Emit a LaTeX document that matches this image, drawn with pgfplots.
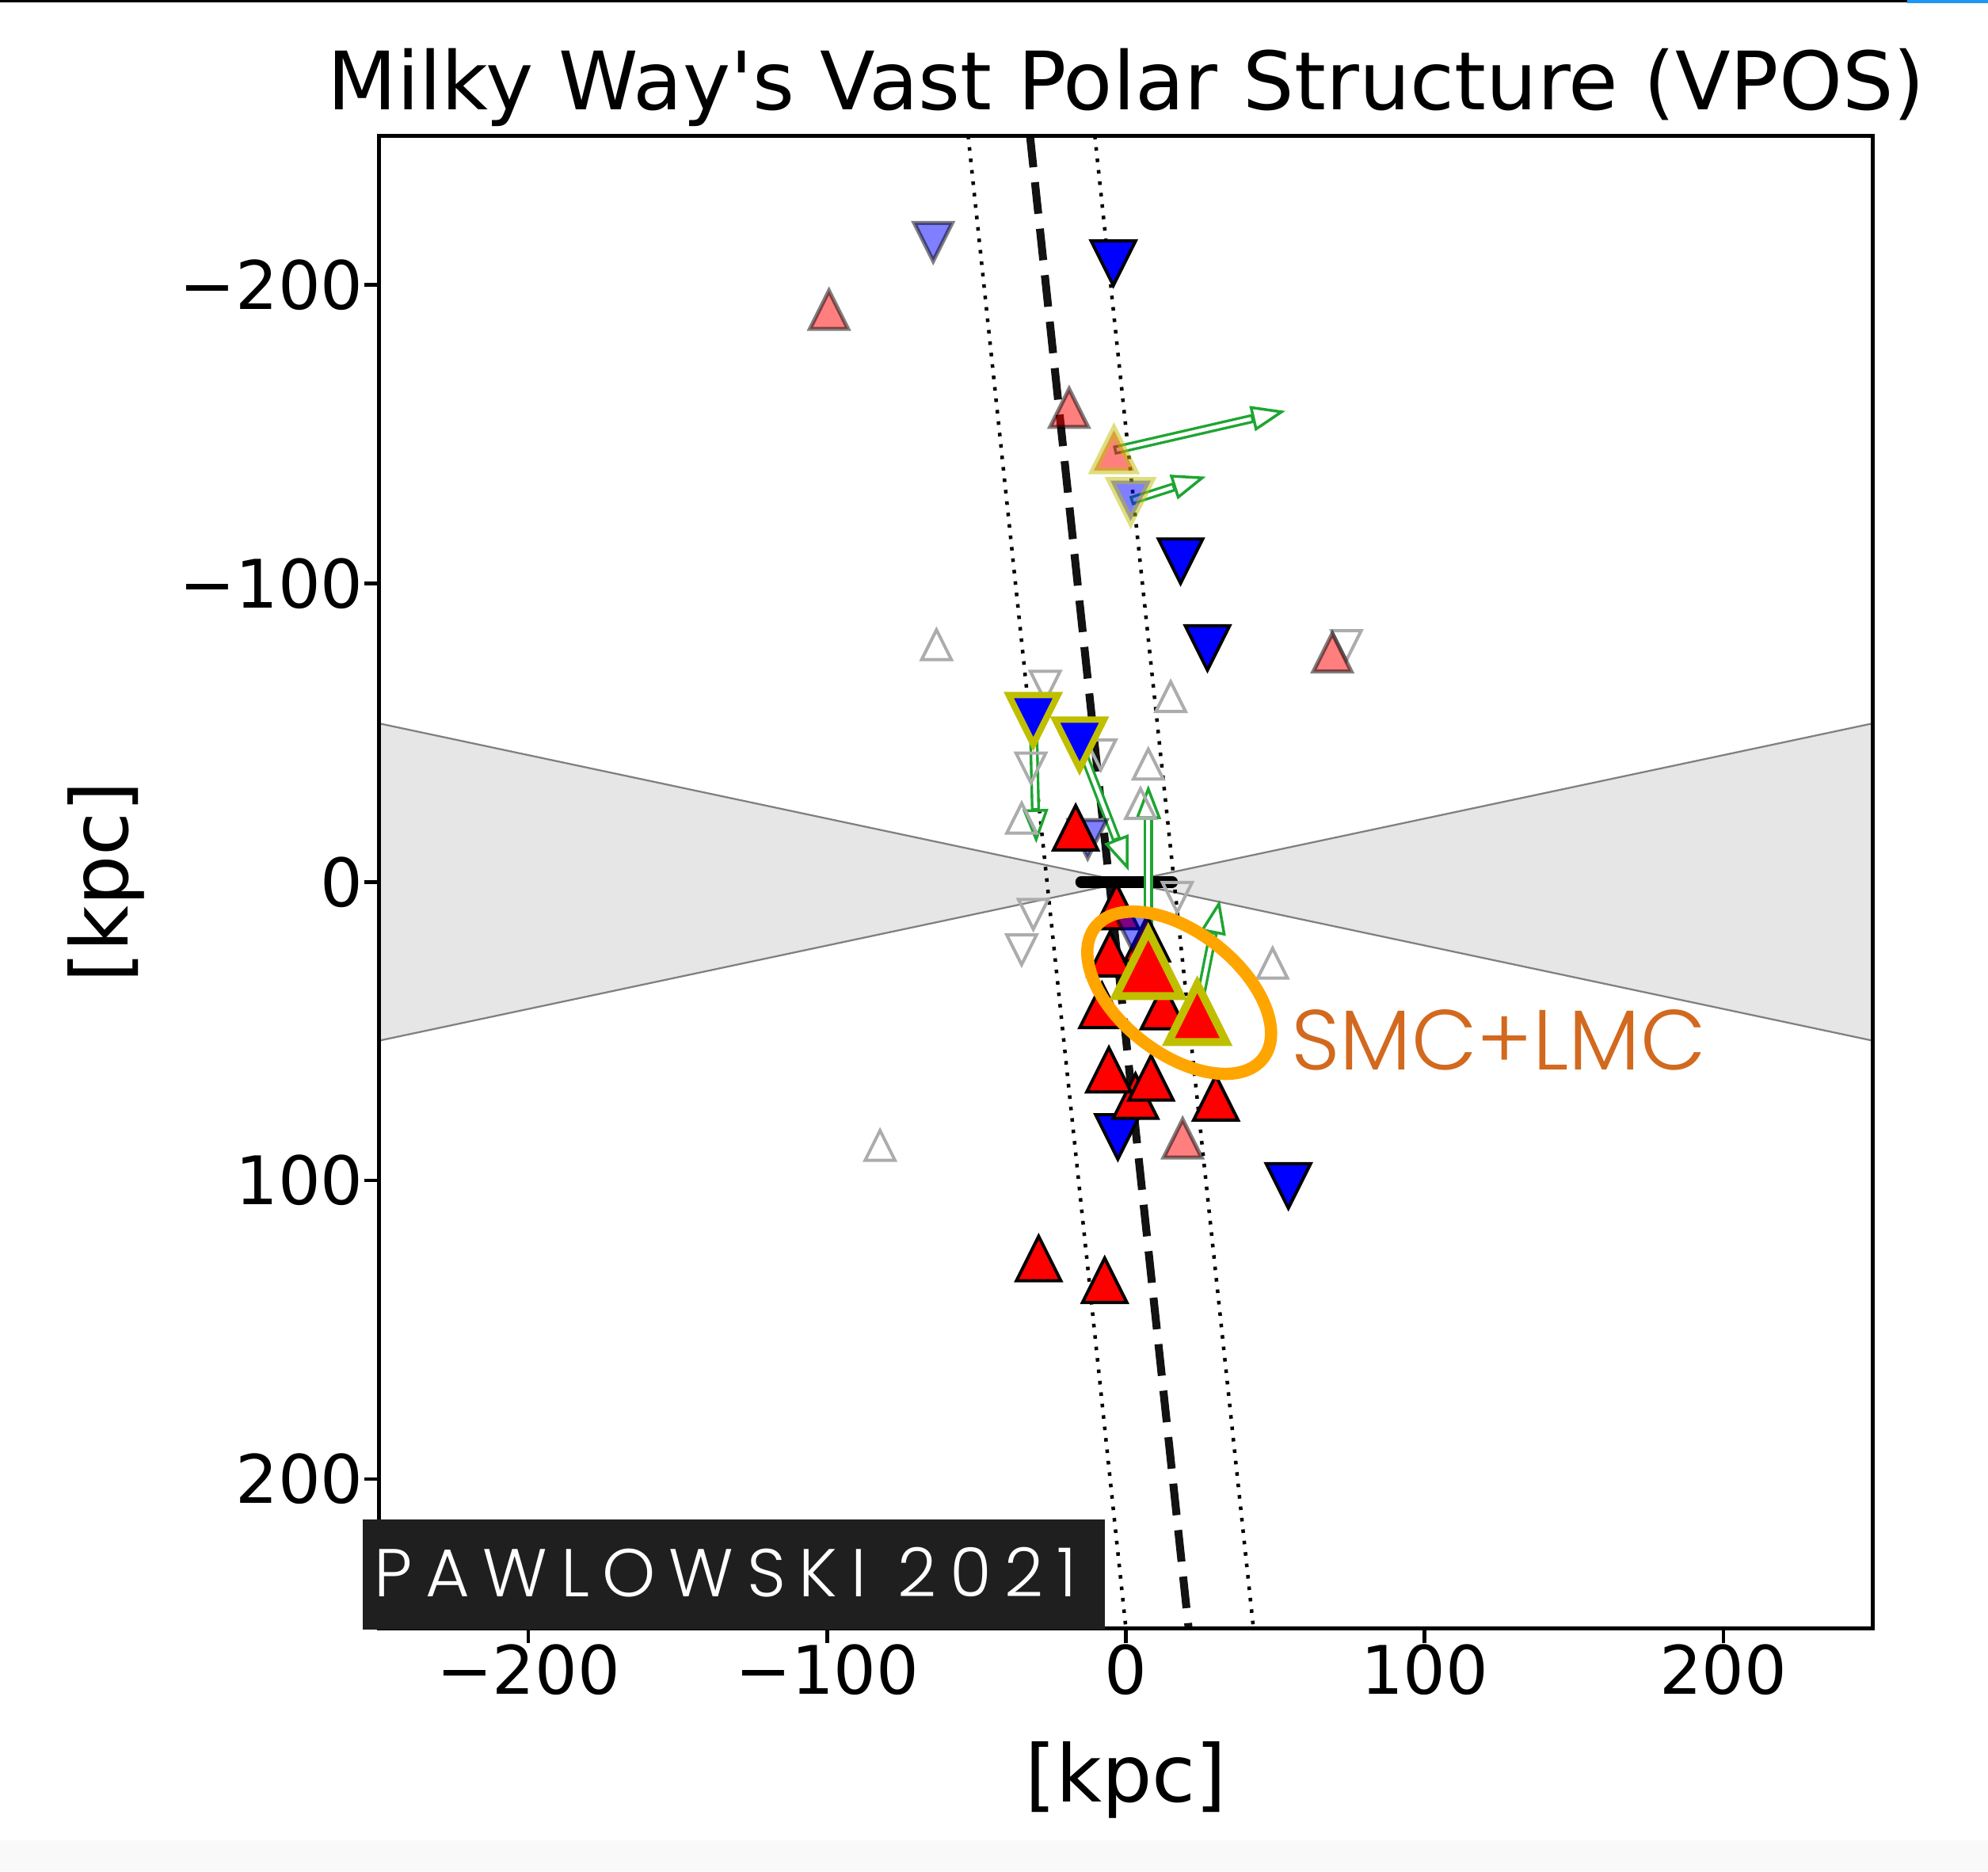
\documentclass[border=0pt]{standalone}
\usepackage{pgfplots}
\pgfplotsset{compat=1.18}
\usepackage{pgfplotstable}
\usepackage{fontspec}
\setmainfont{DejaVu Sans}
\IfFontExistsTF{Poppins Light}{%
  \newfontfamily\geofont{Poppins Light}%
  \newfontfamily\geofonttracked[LetterSpace=19.5]{Poppins Light}%
}{%
  \newfontfamily\geofont{Poppins}%
  \newfontfamily\geofonttracked[LetterSpace=19.5]{Poppins}%
}
\usetikzlibrary{arrows.meta}

\definecolor{mplyellow}{rgb}{0.75,0.75,0}
\definecolor{opengrey}{RGB}{172,172,172}
\definecolor{zoagrey}{RGB}{230,230,230}
\definecolor{zoaedge}{RGB}{128,128,128}
\definecolor{pmgreen}{RGB}{30,165,50}
\definecolor{smcorange}{RGB}{255,165,0}
\definecolor{smctext}{RGB}{210,105,30}
\definecolor{creditbg}{RGB}{31,31,31}
\definecolor{cornerblue}{RGB}{33,150,243}
\definecolor{stripgrey}{RGB}{249,249,249}

% matplotlib-style triangles: as wide as they are tall, centred on the point
\pgfdeclareplotmark{mtriup}{%
  \pgfpathmoveto{\pgfqpoint{0pt}{\pgfplotmarksize}}%
  \pgfpathlineto{\pgfqpoint{-\pgfplotmarksize}{-\pgfplotmarksize}}%
  \pgfpathlineto{\pgfqpoint{\pgfplotmarksize}{-\pgfplotmarksize}}%
  \pgfpathclose
  \pgfusepathqfillstroke}
\pgfdeclareplotmark{mtridown}{%
  \pgfpathmoveto{\pgfqpoint{0pt}{-\pgfplotmarksize}}%
  \pgfpathlineto{\pgfqpoint{-\pgfplotmarksize}{\pgfplotmarksize}}%
  \pgfpathlineto{\pgfqpoint{\pgfplotmarksize}{\pgfplotmarksize}}%
  \pgfpathclose
  \pgfusepathqfillstroke}
\pgfdeclareplotmark{mtriupopen}{%
  \pgfpathmoveto{\pgfqpoint{0pt}{\pgfplotmarksize}}%
  \pgfpathlineto{\pgfqpoint{-\pgfplotmarksize}{-\pgfplotmarksize}}%
  \pgfpathlineto{\pgfqpoint{\pgfplotmarksize}{-\pgfplotmarksize}}%
  \pgfpathclose
  \pgfusepathqstroke}
\pgfdeclareplotmark{mtridownopen}{%
  \pgfpathmoveto{\pgfqpoint{0pt}{-\pgfplotmarksize}}%
  \pgfpathlineto{\pgfqpoint{-\pgfplotmarksize}{\pgfplotmarksize}}%
  \pgfpathlineto{\pgfqpoint{\pgfplotmarksize}{\pgfplotmarksize}}%
  \pgfpathclose
  \pgfusepathqstroke}

% satellites without measured orbits (open grey)
\pgfplotstableread{
x y
-63.4 -79.5
15.0 -62.1
7.5 -39.5
4.9 -26.3
-34.9 -21.4
49.1 27.2
-82.3 88.2
}\greyup
\pgfplotstableread{
x y
73.8 -79.2
-27.0 -65.6
-31.8 -38.2
-8.4 -42.6
17.2 5.1
-31.0 10.8
-34.9 22.7
}\greydown
% faint (off-plane) satellites
\pgfplotstableread{
x y
-99.4 -191.7
-19.0 -158.8
69.1 -76.9
19.0 85.9
}\fadedup
\pgfplotstableread{
x y
-64.5 -214.4
-12.8 -14.4
}\fadeddown
\pgfplotstableread{
x y
2.5 17.0
}\fadeddowntwo
% satellites in the plane
\pgfplotstableread{
x y
-4.2 -207.3
18.3 -107.5
27.3 -78.4
-2.7 85.4
54.4 101.8
}\planedown
\pgfplotstableread{
x y
-16.8 -18.2
-3.1 8.2
-5.3 24.1
7.1 19.0
-8.0 41.3
12.6 41.7
3.2 71.7
-5.7 62.9
8.4 65.6
30.1 72.3
-29.2 126.1
-7.1 133.4
}\planeup

\tikzset{pmarrow/.style={pmgreen, line width=2.3pt,
    -{Triangle[open, length=8.6pt, width=6.4pt, line width=0.7pt]},
    postaction={draw=white, line width=0.95pt, shorten >=8.9pt, shorten <=0.7pt, -}}}

\begin{document}
\begin{tikzpicture}
\path[use as bounding box, fill=white] (0,0) rectangle (502pt,472.4pt);
\fill[black] (0,471.8pt) rectangle (481.6pt,472.4pt);
\fill[cornerblue] (481.6pt,471.6pt) rectangle (502pt,472.4pt);
\fill[stripgrey] (0,0) rectangle (502pt,7.9pt);

\begin{axis}[
  at={(284.30pt,249.73pt)}, anchor=center,
  scale only axis, width=377.16pt, height=376.82pt,
  xmin=-250, xmax=250, ymin=-250, ymax=250,
  y dir=reverse,
  axis on top,
  axis line style={line width=0.9pt},
  tick style={line width=0.9pt, black},
  major tick length=3.8pt,
  tick align=outside,
  xtick pos=left, ytick pos=left,
  xtick={-200,-100,0,100,200},
  xticklabels={−200,−100,0,100,200},
  ytick={-200,-100,0,100,200},
  yticklabels={−200,−100,0,100,200},
  tick label style={font=\fontsize{16.9}{20}\selectfont},
  xticklabel style={anchor=north, inner sep=0pt},
  yticklabel style={anchor=east, inner sep=0pt},
]
% zone of avoidance, +-12 degrees
\addplot[fill=zoagrey, draw=zoaedge, line width=0.45pt] coordinates {(0,0) (-250,-53.14) (-250,53.14) (0,0)};
\addplot[fill=zoagrey, draw=zoaedge, line width=0.45pt] coordinates {(0,0) (250,-53.14) (250,53.14) (0,0)};
% best-fit plane and its width
\addplot[black!93, line width=2pt, dash pattern=on 8pt off 3.8pt] coordinates {(-32.1,-250) (21.0,250)};
\addplot[black, line width=0.9pt, dash pattern=on 0.9pt off 2pt] coordinates {(-52.8,-250) (0,250)};
\addplot[black, line width=0.9pt, dash pattern=on 0.9pt off 2pt] coordinates {(-10.4,-250) (42.7,250)};
% Milky Way disc
\addplot[black, line width=2.9pt, line cap=round] coordinates {(-15,0) (15.5,0)};

\addplot[only marks, mark=mtriupopen, mark size=3.75pt, mark options={draw=opengrey, line width=0.8pt}] table {\greyup};
\addplot[only marks, mark=mtridownopen, mark size=3.75pt, mark options={draw=opengrey, line width=0.8pt}] table {\greydown};
\addplot[only marks, mark=mtriup, mark size=4.8pt, mark options={fill=red, draw=black, line width=1pt, opacity=0.5}] table {\fadedup};
\addplot[only marks, mark=mtridown, mark size=4.8pt, mark options={fill=blue, draw=black, line width=1pt, opacity=0.5}] table {\fadeddown};
\addplot[only marks, mark=mtridown, mark size=5.6pt, mark options={fill=blue, draw=black, line width=0.8pt}] table {\planedown};
\addplot[only marks, mark=mtriup, mark size=5.6pt, mark options={fill=red, draw=black, line width=0.8pt}] table {\planeup};
\addplot[only marks, mark=mtridown, mark size=4.8pt, mark options={fill=blue, draw=black, line width=1pt, opacity=0.5}] table {\fadeddowntwo};

% satellites with proper motions (yellow outline)
\addplot[only marks, mark=mtriup, mark size=5.1pt, mark options={fill=red, draw=mplyellow, line width=1.8pt, opacity=0.5}] coordinates {(-4.0,-144.6)};
\addplot[only marks, mark=mtridown, mark size=5.1pt, mark options={fill=blue, draw=mplyellow, line width=1.8pt, opacity=0.5}] coordinates {(1.6,-127.7)};
\addplot[only marks, mark=mtridown, mark size=6.2pt, mark options={fill=blue, draw=mplyellow, line width=1.6pt}] coordinates {(-31.0,-54.4) (-15.5,-46.2)};
\addplot[only marks, mark=mtriup, mark size=8.2pt, mark options={fill=red, draw=mplyellow, line width=2pt}] coordinates {(7.5,27.3)};
\addplot[only marks, mark=mtriup, mark size=7.3pt, mark options={fill=red, draw=mplyellow, line width=2pt}] coordinates {(23.9,43.9)};

% proper-motion directions
\addplot[pmarrow] coordinates {(-4.0,-144.6) (53.4,-157.8)};
\addplot[pmarrow] coordinates {(1.6,-127.7) (26.8,-135.8)};
\addplot[pmarrow] coordinates {(-31.0,-54.4) (-30.0,-13.0)};
\addplot[pmarrow] coordinates {(-15.5,-46.2) (0.9,-3.8)};
\addplot[pmarrow] coordinates {(7.5,27.3) (7.5,-32.5)};
\addplot[pmarrow] coordinates {(23.9,43.9) (31.4,6.0)};
\end{axis}

% Magellanic Clouds highlight
\draw[smcorange, line width=3.1pt, rotate around={-38:(297.76pt,221.78pt)}]
  (297.76pt,221.78pt) ellipse [x radius=26.9pt, y radius=15.3pt];
\node[anchor=base west, inner sep=0pt, text=smctext, font=\geofont\fontsize{21.5}{26}\selectfont]
  at (325.8pt,202.4pt) {SMC+LMC};

% credit
\fill[creditbg] (91.5pt,60.94pt) rectangle (279.0pt,88.74pt);
\node[anchor=base west, inner sep=0pt, text=white, font=\geofonttracked\fontsize{17.1}{20}\selectfont]
  at (94.3pt,69.4pt) {PAWLOWSKI 2021};

% title and axis labels
\node[anchor=base, inner sep=0pt, font=\fontsize{20.35}{24}\selectfont]
  at (284.4pt,444.7pt) {Milky Way\textquotesingle s Vast Polar Structure (VPOS)};
\node[anchor=center, inner sep=0pt, font=\fontsize{20}{24}\selectfont]
  at (284.3pt,22.94pt) {[kpc]};
\node[anchor=center, rotate=90, inner sep=0pt, font=\fontsize{20}{24}\selectfont]
  at (26.76pt,249.73pt) {[kpc]};
\end{tikzpicture}
\end{document}
